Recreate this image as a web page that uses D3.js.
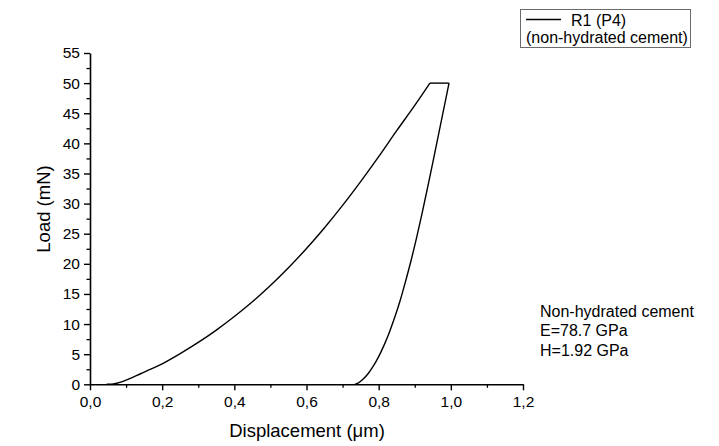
<!DOCTYPE html>
<html>
<head>
<meta charset="utf-8">
<script src="https://cdnjs.cloudflare.com/ajax/libs/d3/7.8.5/d3.min.js"></script>
<style>
  body { margin: 0; background: #fff; }
  text { font-family: Arial, "Liberation Sans", sans-serif; fill: #000; }
</style>
</head>
<body>
<div id="chart"></div>
<script>
// loading branch (displacement in um, load in mN)
var loadDisp = [0.046, 0.065, 0.085, 0.11, 0.14, 0.17, 0.20, 0.25, 0.30, 0.35, 0.40, 0.45,
                0.50, 0.55, 0.60, 0.65, 0.70, 0.75, 0.80, 0.85, 0.90, 0.942];
var loadForce = [0, 0.05, 0.35, 0.95, 1.75, 2.55, 3.4, 5.1, 6.95, 9.0, 11.25, 13.7,
                 16.4, 19.35, 22.55, 26.0, 29.7, 33.65, 37.8, 42.1, 46.3, 50];
// hold at max load
var holdDisp = [0.942, 0.995];
var holdForce = [50, 50];
// unloading branch
var unloadDisp = [0.995, 0.98, 0.965, 0.95, 0.935, 0.92, 0.905, 0.89, 0.875, 0.86,
                  0.845, 0.83, 0.815, 0.80, 0.785, 0.77, 0.755, 0.743, 0.734];
var unloadForce = [50, 45.6, 41.2, 36.8, 32.5, 28.3, 24.3, 20.6, 17.2, 14.0,
                   11.2, 8.7, 6.5, 4.6, 3.0, 1.7, 0.75, 0.2, 0];

var xTicks = [0, 0.2, 0.4, 0.6, 0.8, 1.0, 1.2];
var yTicks = [0, 5, 10, 15, 20, 25, 30, 35, 40, 45, 50, 55];
var legendLines = ["R1 (P4)", "(non-hydrated cement)"];
var noteLines = ["Non-hydrated cement", "E=78.7 GPa", "H=1.92 GPa"];

var width = 719, height = 446;

var svg = d3.select("#chart")
    .append("svg")
    .attr("width", width)
    .attr("height", height);

svg.append("rect").attr("width", width).attr("height", height).attr("fill", "#fff");

var x = d3.scaleLinear().domain([0, 1.2]).range([90, 523]);
var y = d3.scaleLinear().domain([0, 55]).range([384.3, 53]);

var comma = function(v) { return d3.format(".1f")(v).replace(".", ","); };

// minor ticks first, then major axes on top
svg.append("g")
    .attr("transform", "translate(0," + y(0) + ")")
    .call(d3.axisBottom(x).tickValues(d3.range(0.1, 1.2, 0.2)).tickSize(3.5).tickFormat(""))
    .call(function(g) { g.select(".domain").remove(); })
    .selectAll("line").attr("stroke-width", 1.3);

svg.append("g")
    .attr("transform", "translate(" + x(0) + ",0)")
    .call(d3.axisLeft(y).tickValues(d3.range(2.5, 55, 5)).tickSize(3.5).tickFormat(""))
    .call(function(g) { g.select(".domain").remove(); })
    .selectAll("line").attr("stroke-width", 1.3);

var xAxis = svg.append("g")
    .attr("transform", "translate(0," + y(0) + ")")
    .call(d3.axisBottom(x).tickValues(xTicks).tickSize(6).tickSizeOuter(0).tickPadding(6).tickFormat(comma));

var yAxis = svg.append("g")
    .attr("transform", "translate(" + x(0) + ",0)")
    .call(d3.axisLeft(y).tickValues(yTicks).tickSize(6).tickSizeOuter(0).tickPadding(4));

[xAxis, yAxis].forEach(function(g) {
  g.select(".domain").attr("stroke-width", 1.6);
  g.selectAll(".tick line").attr("stroke-width", 1.4);
  g.selectAll("text").style("font-size", "15.5px").attr("fill", "#000");
});

// axis titles
svg.append("text")
    .attr("x", 307).attr("y", 437)
    .attr("text-anchor", "middle")
    .style("font-size", "18.5px")
    .text("Displacement (\u03bcm)");

svg.append("text")
    .attr("transform", "translate(50,209) rotate(-90)")
    .attr("text-anchor", "middle")
    .style("font-size", "18.5px")
    .text("Load (mN)");

// curve
var toPts = function(xs, ys) { return xs.map(function(d, i) { return [d, ys[i]]; }); };
var smooth = d3.line().x(function(d) { return x(d[0]); }).y(function(d) { return y(d[1]); })
    .curve(d3.curveCatmullRom.alpha(0.5));
var straight = d3.line().x(function(d) { return x(d[0]); }).y(function(d) { return y(d[1]); });

var curves = svg.append("g").attr("fill", "none").attr("stroke", "#000")
    .attr("stroke-width", 1.4).attr("stroke-linejoin", "round");
curves.append("path").attr("d", smooth(toPts(loadDisp, loadForce)));
curves.append("path").attr("d", straight(toPts(holdDisp, holdForce)));
curves.append("path").attr("d", smooth(toPts(unloadDisp, unloadForce)));

// legend
var legend = svg.append("g");
legend.append("rect")
    .attr("x", 520.5).attr("y", 9.5).attr("width", 170).attr("height", 38)
    .attr("fill", "#fff").attr("stroke", "#6b6b6b").attr("stroke-width", 1);
legend.append("line")
    .attr("x1", 526).attr("x2", 561).attr("y1", 19.5).attr("y2", 19.5)
    .attr("stroke", "#000").attr("stroke-width", 1.4);
legend.append("text").attr("x", 571).attr("y", 26).style("font-size", "16px").text(legendLines[0]);
legend.append("text").attr("x", 526).attr("y", 43).style("font-size", "16px").text(legendLines[1]);

// annotation
svg.append("g").selectAll("text")
    .data(noteLines)
    .enter()
    .append("text")
    .attr("x", 540)
    .attr("y", function(d, i) { return 317 + i * 19.3; })
    .style("font-size", "16px")
    .text(function(d) { return d; });
</script>
</body>
</html>
